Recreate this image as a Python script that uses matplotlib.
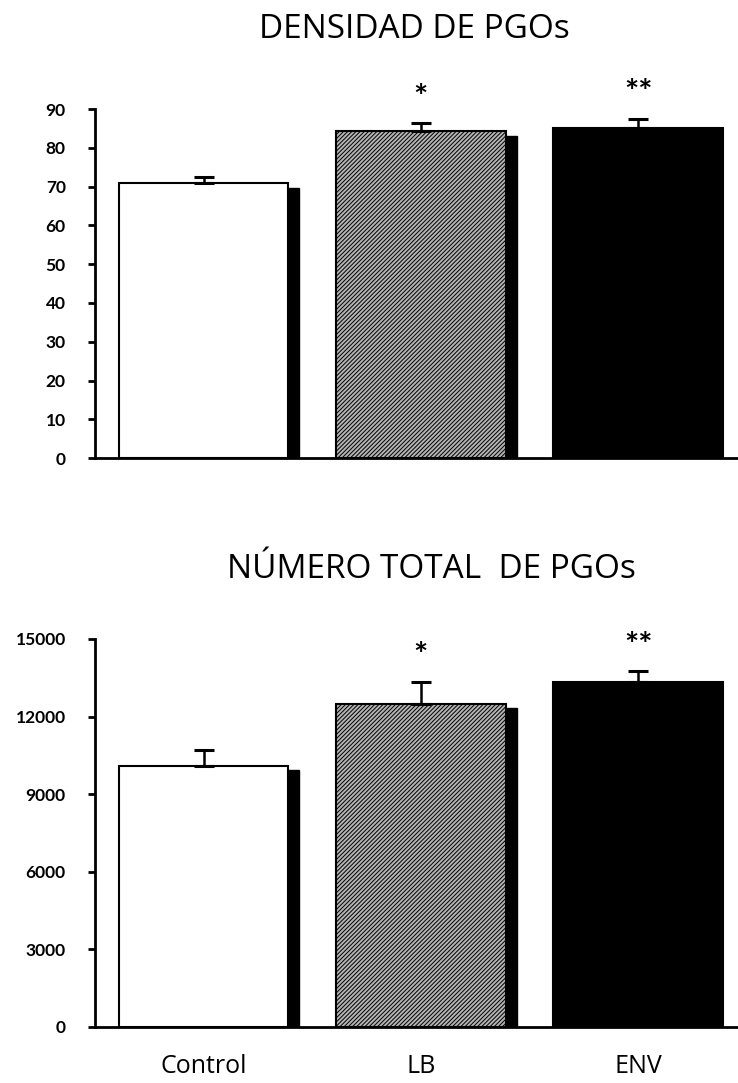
import numpy as np
import matplotlib
matplotlib.use("Agg")
import matplotlib.pyplot as plt
from matplotlib.transforms import offset_copy

plt.rcParams['font.family'] = ['Lato', 'DejaVu Sans']
plt.rcParams['hatch.linewidth'] = 0.7

# Datos
grupos = ["Control", "LB", "ENV"]
densidad = [71.0, 84.4, 85.2]
densidad_err = [1.5, 2.0, 2.3]
total = [10100, 12500, 13350]
total_err = [600, 850, 400]
signif = ["", "*", "**"]

colores = ["white", "#b4b4b4", "black"]
tramas = [None, "////////", None]
con_sombra = [True, True, False]

fig = plt.figure(figsize=(7.38, 10.83), dpi=100)
ax1 = fig.add_axes([0.1287, 0.577, 0.8713, 0.3223])
ax2 = fig.add_axes([0.1287, 0.052, 0.8713, 0.358])


def grafica_barras(ax, valores, errores, ticks, titulo, titulo_x, titulo_y):
    x = np.arange(len(valores))
    ancho = 0.78
    # sombra negra desplazada a la derecha y hacia abajo
    sombra = offset_copy(ax.transData, fig=fig, x=8, y=-3.5, units='points')
    for xi, v, s in zip(x, valores, con_sombra):
        if s:
            ax.bar(xi, v, width=ancho, color="black", edgecolor="black",
                   transform=sombra, zorder=1)
    for xi, v, c, h in zip(x, valores, colores, tramas):
        ax.bar(xi, v, width=ancho, color=c, edgecolor="black", hatch=h,
               linewidth=1.5, zorder=2)
    ax.errorbar(x, valores, yerr=[np.zeros(len(valores)), errores], fmt="none",
                ecolor="black", elinewidth=1.8, capsize=7, capthick=2.2, zorder=3)
    for xi, v, e, s in zip(x, valores, errores, signif):
        if s:
            ax.annotate(s, (xi, v + e), xytext=(0, 11), textcoords="offset points",
                        ha="center", va="baseline", fontsize=24, fontweight="bold",
                        annotation_clip=False)
    ax.set_xlim(-0.5, 2.46)
    ax.set_ylim(0, ticks[-1])
    ax.set_yticks(ticks)
    ax.tick_params(axis="y", length=5, width=2, pad=16, labelsize=12.5)
    for lab in ax.get_yticklabels():
        lab.set_fontweight("bold")
    ax.spines["top"].set_visible(False)
    ax.spines["right"].set_visible(False)
    ax.spines["left"].set_linewidth(2)
    ax.spines["bottom"].set_linewidth(2)
    fig.text(titulo_x, titulo_y, titulo, ha="center", va="center", fontsize=24,
             family=["Open Sans", "DejaVu Sans"])


grafica_barras(ax1, densidad, densidad_err, list(range(0, 91, 10)),
               "DENSIDAD DE PGOs", 0.561, 0.973)
grafica_barras(ax2, total, total_err, list(range(0, 15001, 3000)),
               "NÚMERO TOTAL  DE PGOs", 0.584, 0.474)

ax1.set_xticks([])
ax2.set_xticks(np.arange(len(grupos)))
ax2.set_xticklabels(grupos, fontsize=18, family=["Open Sans", "DejaVu Sans"])
ax2.tick_params(axis="x", length=0, pad=20)

fig.savefig("out.png", dpi=100)
